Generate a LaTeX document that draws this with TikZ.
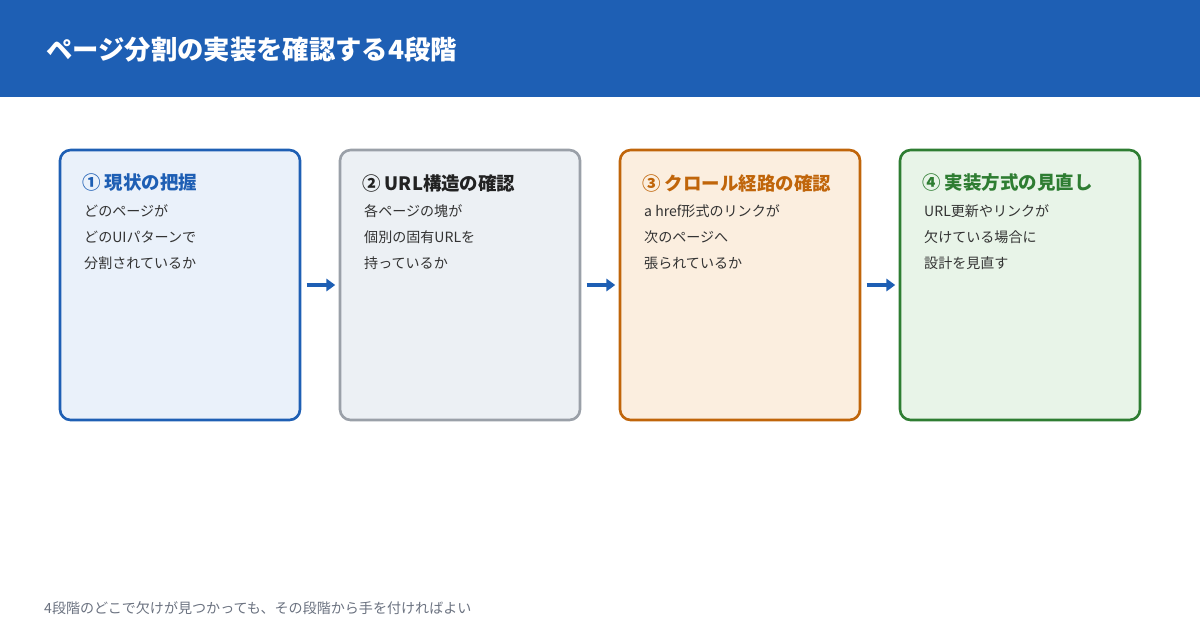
\documentclass[tikz,border=0pt]{standalone}
\usepackage{fontspec}
\setmainfont{Noto Sans CJK JP}
\usetikzlibrary{arrows.meta}
\definecolor{hdblue}{HTML}{1E5FB4}
\definecolor{bluebg}{HTML}{EAF1FA}
\definecolor{greyln}{HTML}{9AA0A8}
\definecolor{greybg}{HTML}{ECF0F4}
\definecolor{orgln}{HTML}{C0650A}
\definecolor{orgbg}{HTML}{FBEEDF}
\definecolor{grnln}{HTML}{2E7D32}
\definecolor{grnbg}{HTML}{E8F4E8}
\definecolor{darktx}{HTML}{222222}
\definecolor{bodytx}{HTML}{333333}
\definecolor{foottx}{HTML}{6B7280}
\tikzset{
  stage/.style={draw=#1, line width=1.5pt, rounded corners=6pt, minimum width=4.8cm, minimum height=5.4cm},
  head/.style={anchor=west, font=\fontsize{10.5}{12}\selectfont\bfseries},
  body/.style={anchor=west, text=bodytx, font=\fontsize{8}{10}\selectfont},
  steparrow/.style={-{Triangle[length=5pt,width=7pt]}, draw=hdblue, line width=1.8pt},
}
\begin{document}
\begin{tikzpicture}[x=0.02cm,y=-0.02cm]
  \useasboundingbox (0,0) rectangle (1200,630);
  % 見出し帯
  \fill[hdblue] (0,0) rectangle (1200,97);
  \node[anchor=west, text=white, font=\fontsize{15}{18}\selectfont\bfseries] (title) at (40,50) {ページ分割の実装を確認する4段階};
  % 4つの段階
  \node[stage=hdblue, fill=bluebg] (s1) at (180,285) {};
  \node[stage=greyln, fill=greybg] (s2) at (460,285) {};
  \node[stage=orgln, fill=orgbg] (s3) at (740,285) {};
  \node[stage=grnln, fill=grnbg] (s4) at (1020,285) {};
  \node[head, text=hdblue] (h1) at (76,183) {① 現状の把握};
  \node[head, text=darktx] (h2) at (356,183) {② URL構造の確認};
  \node[head, text=orgln] (h3) at (636,183) {③ クロール経路の確認};
  \node[head, text=grnln] (h4) at (916,183) {④ 実装方式の見直し};
  \foreach \n/\x/\a/\b/\c in {1/78/どのページが/どのUIパターンで/分割されているか,
      2/358/各ページの塊が/個別の固有URLを/持っているか,
      3/638/a href形式のリンクが/次のページへ/張られているか,
      4/918/URL更新やリンクが/欠けている場合に/設計を見直す}{
    \node[body] (b\n a) at (\x,211) {\a};
    \node[body] (b\n b) at (\x,237) {\b};
    \node[body] (b\n c) at (\x,263) {\c};
  }
  % 矢印
  \draw[steparrow] ([xshift=3]s1.east) -- ([xshift=-2]s2.west);
  \draw[steparrow] ([xshift=3]s2.east) -- ([xshift=-2]s3.west);
  \draw[steparrow] ([xshift=3]s3.east) -- ([xshift=-2]s4.west);
  % 注記
  \node[anchor=west, text=foottx, font=\fontsize{8}{10}\selectfont] (foot) at (38,608) {4段階のどこで欠けが見つかっても、その段階から手を付ければよい};
\end{tikzpicture}
\end{document}
